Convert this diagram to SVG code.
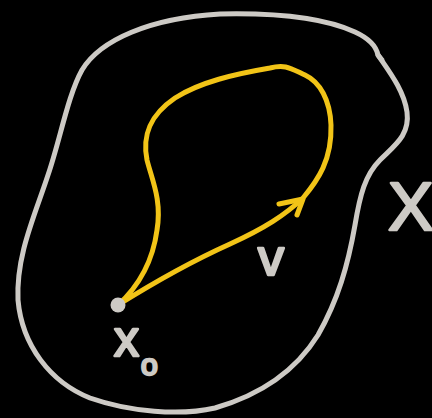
<svg xmlns="http://www.w3.org/2000/svg" width="432" height="418" viewBox="0 0 432 418">
<style>
.gray{fill:none;stroke:#cdcac5;stroke-width:5;stroke-linecap:round;stroke-linejoin:round}
.yel{fill:none;stroke:#f2c417;stroke-width:5;stroke-linecap:round;stroke-linejoin:round}
.lbl{fill:#cdcac5;stroke:#cdcac5;stroke-width:2.5;stroke-linejoin:round;font-family:"Liberation Sans",Arial,sans-serif}
</style>
<rect width="432" height="418" fill="#000"/>
<g id="region-X">
<path class="gray" d="M220,14 C265,13 320,16 355,32 C368,38 376,45 378,55 C388,70 404,90 407,112 C410,135 395,145 380,160 C365,175 360,195 355,225 C348,265 338,300 318,335 C295,372 260,395 215,408 C180,416 130,412 90,398 C50,382 22,345 18,300 C16,255 35,215 48,175 C60,140 68,95 82,70 C100,40 150,18 220,14 Z"/>
<path class="gray" d="M378,55 L382,60"/>
</g>
<g id="loop-v">
<path class="yel" d="M118,305 C150,285 190,262 230,244 C265,228 285,215 303,198 C318,180 332,160 331,125 C330,100 320,82 305,75 C290,68 285,64 270,68 C235,74 200,82 175,98 C150,115 142,135 147,160 C152,180 162,200 157,230 C153,260 140,285 118,305"/>
<path class="yel" d="M279,204 L303,199 L297,215"/>
</g>
<g id="point-x0">
<circle cx="118" cy="305" r="7.5" fill="#cdcac5"/>
</g>
<text class="lbl" x="114" y="356" font-size="50">x<tspan font-size="30" dx="2" dy="19">o</tspan></text>
<text class="lbl" x="258" y="275" font-size="52">v</text>
<text class="lbl" x="388" y="230" font-size="68">X</text>
</svg>
